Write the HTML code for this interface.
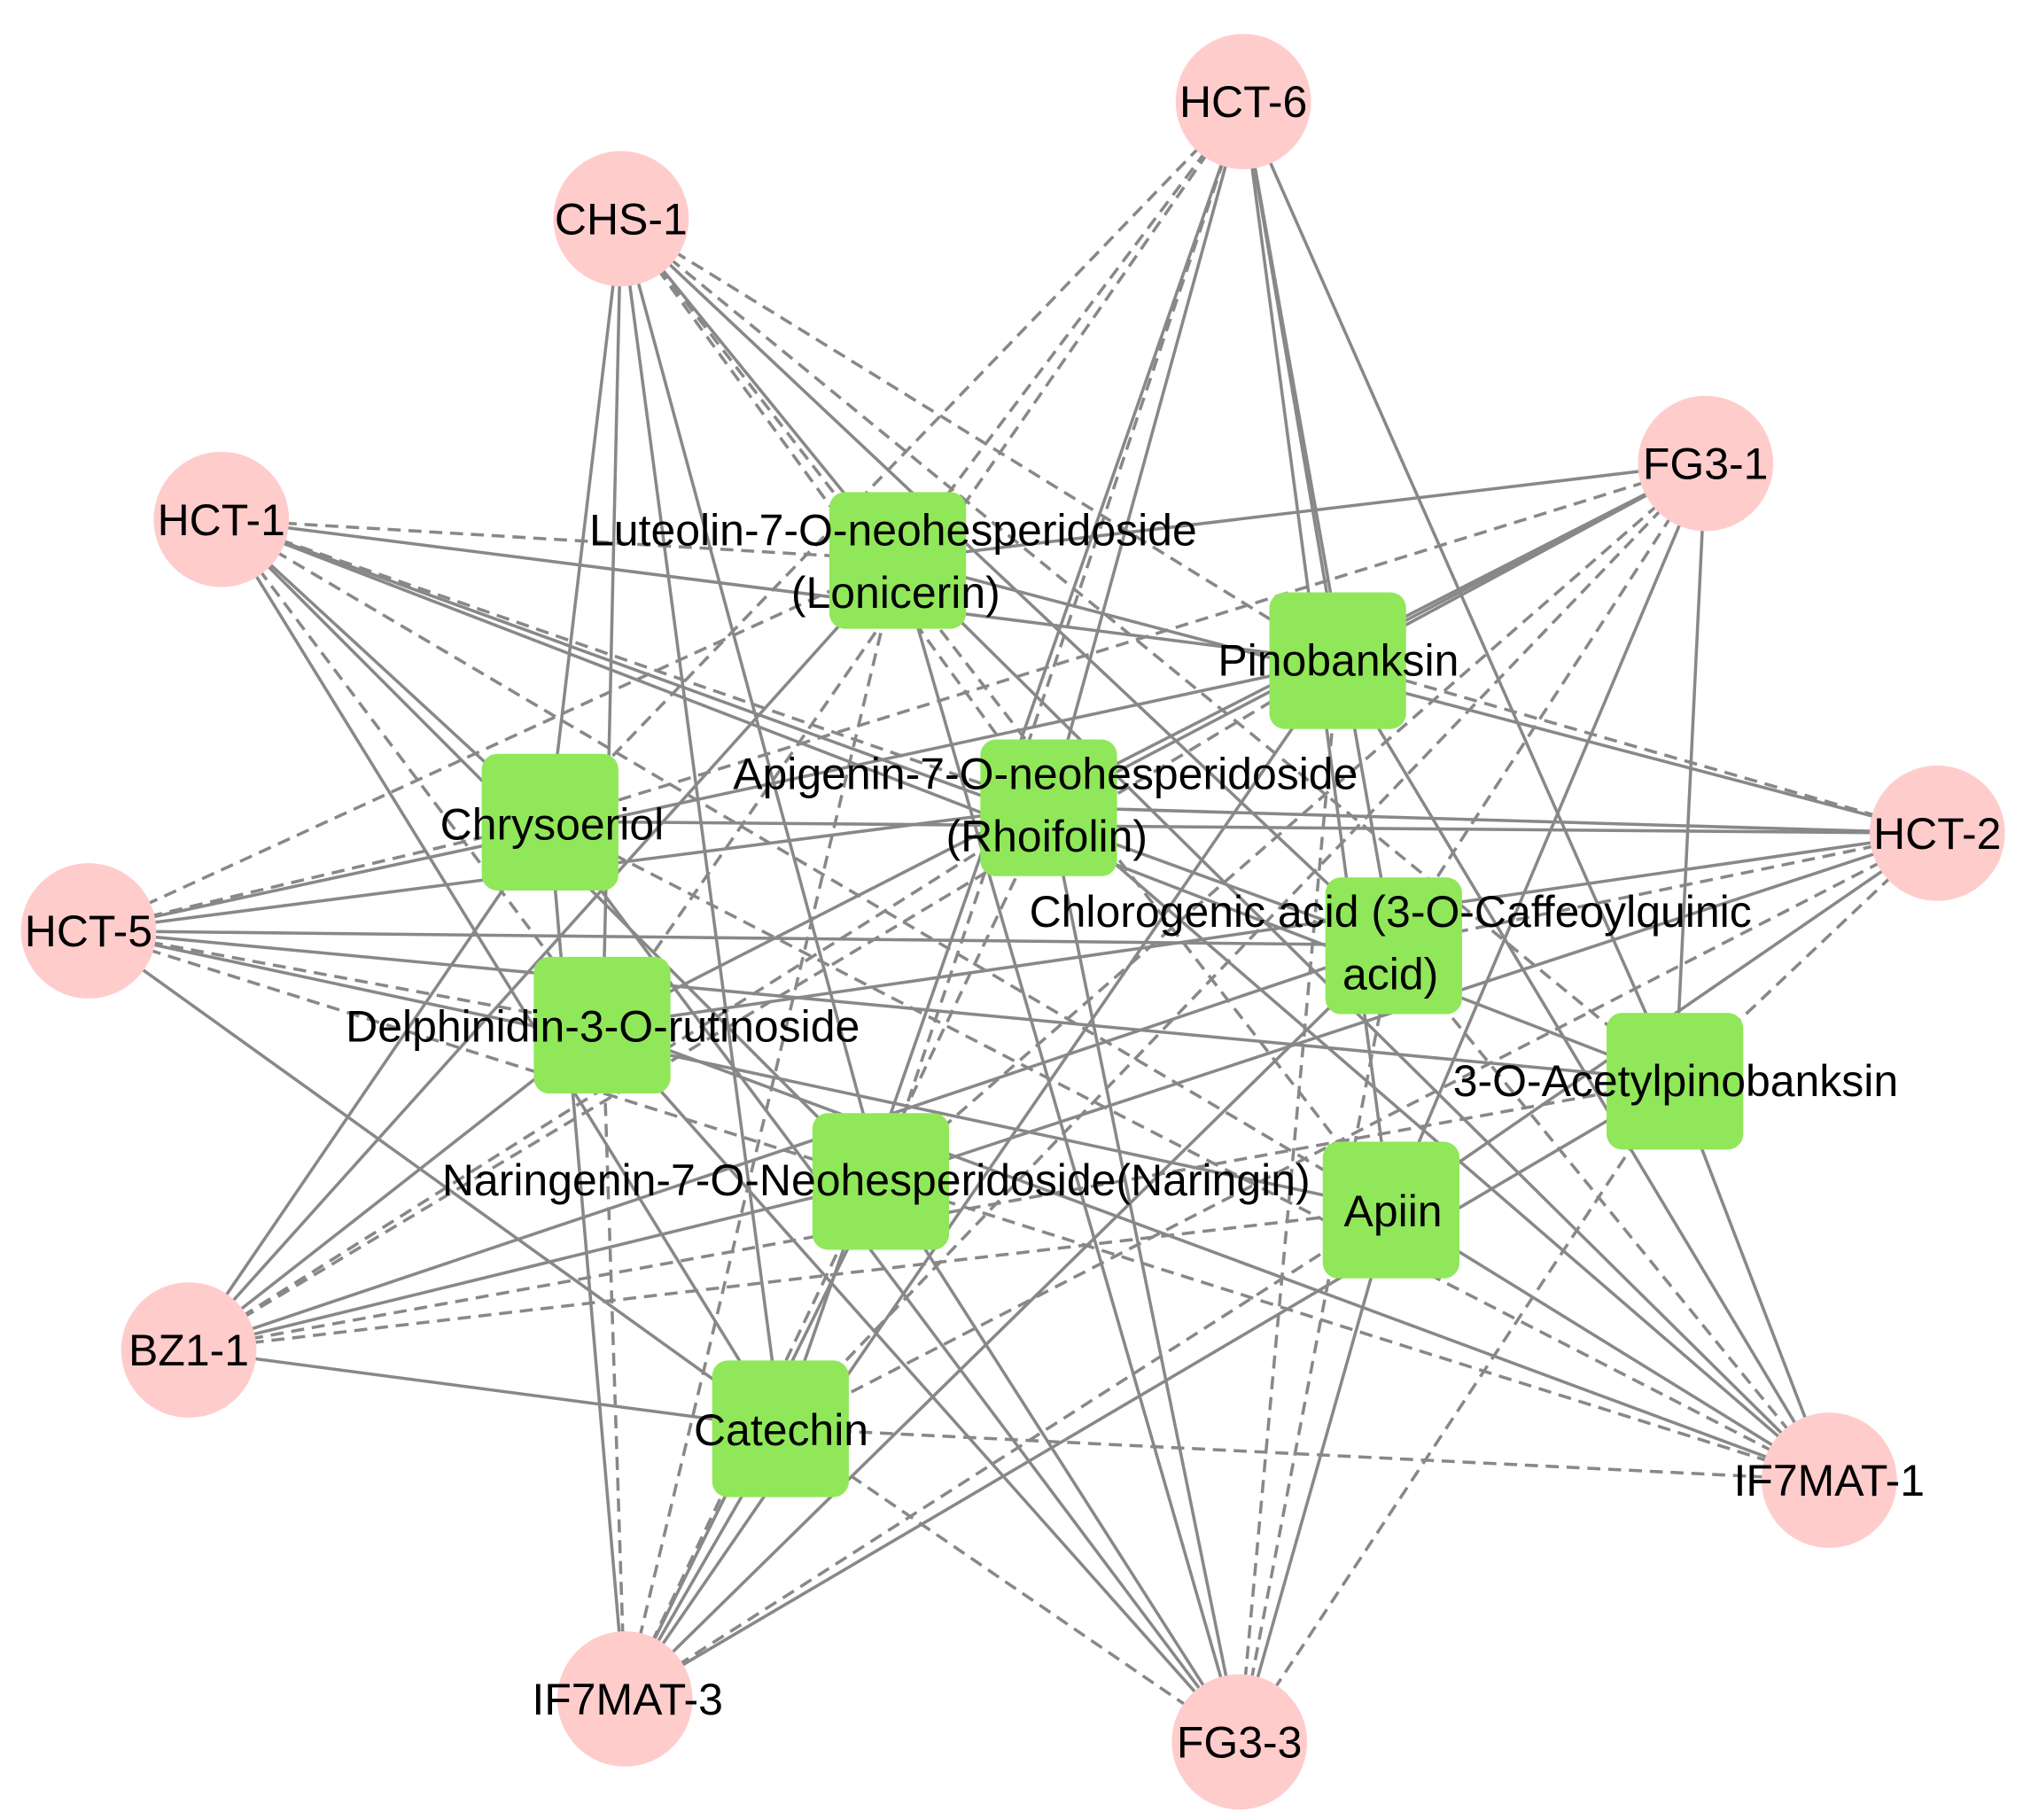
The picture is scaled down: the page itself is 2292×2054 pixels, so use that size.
<!DOCTYPE html>
<html><head><meta charset="utf-8"><style>
html,body{margin:0;padding:0;background:#fff;}
svg{display:block;}
text{font-family:"Liberation Sans",Arial,sans-serif;font-size:34px;fill:#000;text-anchor:middle;}
</style></head><body>
<svg id="s" width="2292" height="2054" viewBox="0 0 1560 1398" preserveAspectRatio="none" xmlns="http://www.w3.org/2000/svg">
<g id="edges" stroke="#888" stroke-width="2.4" fill="none"></g>
<g fill="#ffcccc">
<circle cx="955" cy="78" r="52"/>
<circle cx="477" cy="168" r="52"/>
<circle cx="1310" cy="356" r="52"/>
<circle cx="170" cy="399" r="52"/>
<circle cx="1488" cy="640" r="52"/>
<circle cx="68" cy="715" r="52"/>
<circle cx="145" cy="1037" r="52"/>
<circle cx="1405" cy="1137" r="52"/>
<circle cx="480" cy="1305" r="52"/>
<circle cx="952" cy="1338" r="52"/>
</g>
<g fill="#90e75a">
<rect x="637" y="378" width="105" height="105" rx="12"/>
<rect x="975" y="455" width="105" height="105" rx="12"/>
<rect x="370" y="579" width="105" height="105" rx="12"/>
<rect x="753" y="568" width="105" height="105" rx="12"/>
<rect x="1018" y="674" width="105" height="105" rx="12"/>
<rect x="410" y="735" width="105" height="105" rx="12"/>
<rect x="1234" y="778" width="105" height="105" rx="12"/>
<rect x="624" y="855" width="105" height="105" rx="12"/>
<rect x="1016" y="877" width="105" height="105" rx="12"/>
<rect x="547" y="1045" width="105" height="105" rx="12"/>
</g>
<g>
<text x="955" y="90">HCT-6</text>
<text x="477" y="180">CHS-1</text>
<text x="1310" y="368">FG3-1</text>
<text x="170" y="411">HCT-1</text>
<text x="1488" y="652">HCT-2</text>
<text x="68" y="727">HCT-5</text>
<text x="145" y="1049">BZ1-1</text>
<text x="1405" y="1149">IF7MAT-1</text>
<text x="482" y="1317">IF7MAT-3</text>
<text x="952" y="1350">FG3-3</text>
<text x="686" y="419">Luteolin-7-O-neohesperidoside</text>
<text x="688" y="467">(Lonicerin)</text>
<text x="1028" y="519">Pinobanksin</text>
<text x="803" y="606">Apigenin-7-O-neohesperidoside</text>
<text x="804" y="654">(Rhoifolin)</text>
<text x="424" y="645">Chrysoeriol</text>
<text x="1068" y="712">Chlorogenic acid (3-O-Caffeoylquinic</text>
<text x="1068" y="760">acid)</text>
<text x="463" y="800">Delphinidin-3-O-rutinoside</text>
<text x="1287" y="842">3-O-Acetylpinobanksin</text>
<text x="673" y="918">Naringenin-7-O-Neohesperidoside(Naringin)</text>
<text x="1070" y="942">Apiin</text>
<text x="600" y="1110">Catechin</text>
</g>
</svg>
<script>
var T=[[955,78],[477,168],[1310,356],[170,399],[1488,640],[68,715],[145,1037],[1405,1137],[480,1305],[952,1338]];
var C=[[690,430],[1028,508],[422,631],[806,620],[1070,726],[463,788],[1287,830],[677,907],[1068,929],[600,1097]];
var g=document.getElementById('edges'),ns='http://www.w3.org/2000/svg';
for(var i=0;i<T.length;i++)for(var j=0;j<C.length;j++){
 var l=document.createElementNS(ns,'line');
 l.setAttribute('x1',T[i][0]);l.setAttribute('y1',T[i][1]);
 l.setAttribute('x2',C[j][0]);l.setAttribute('y2',C[j][1]);
 if((i*7+j*3)%5<2)l.setAttribute('stroke-dasharray','10 6');
 g.appendChild(l);
}
</script>
</body></html>
